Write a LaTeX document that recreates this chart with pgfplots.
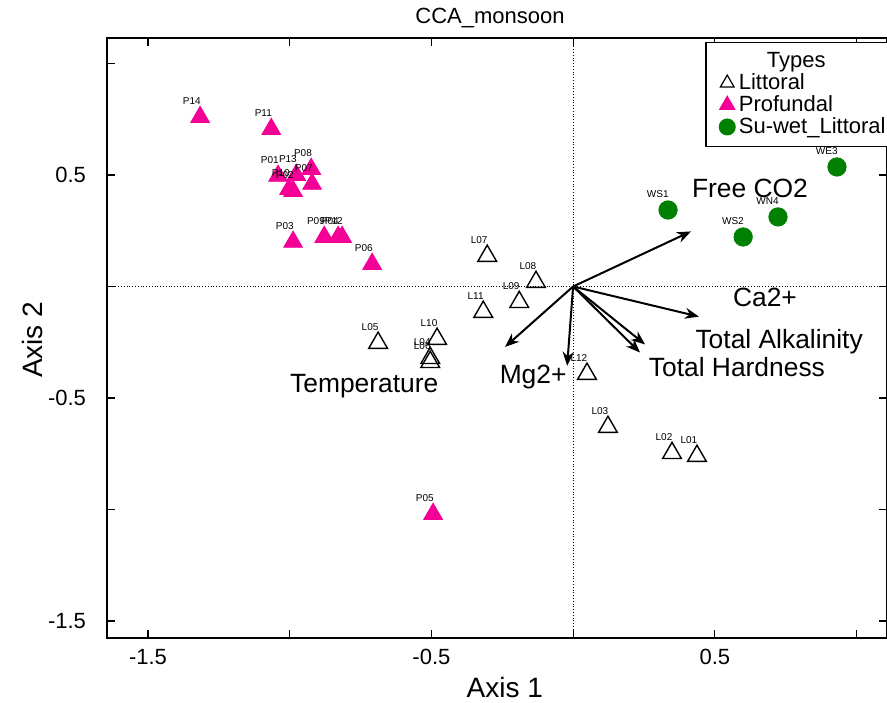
\documentclass[border=0pt]{standalone}
\usepackage{pgfplots}
\pgfplotsset{compat=1.18}
\usepackage{fontspec}
\setmainfont{Liberation Sans}
\usetikzlibrary{arrows.meta}
\definecolor{prof}{RGB}{245,0,150}
\definecolor{suwet}{RGB}{0,128,0}
\begin{document}
\begin{tikzpicture}
\begin{axis}[
  at={(0,0)}, anchor=south west,
  scale only axis, width=390pt, height=300pt,
  xmin=-1.6446, xmax=1.1076, ymin=-1.5762, ymax=1.1143,
  xtick={-1.5,-1,-0.5,0,0.5,1}, xticklabels={-1.5,,-0.5,,0.5,},
  ytick={-1.5,-1,-0.5,0,0.5,1}, yticklabels={-1.5,,-0.5,,0.5,},
  tick align=inside,
  major tick length=4pt,
  tick style={black, line width=0.6pt},
  ticklabel style={font=\fontsize{11}{13}\selectfont},
  xticklabel style={yshift=-2pt},
  yticklabel style={xshift=-7pt},
  axis line style={line width=0.9pt},
  clip=false,
  xlabel={Axis 1}, ylabel={Axis 2},
  xlabel style={at={(rel axis cs:0.51,-0.0833)}, anchor=center, font=\fontsize{14}{16}\selectfont},
  ylabel style={at={(rel axis cs:-0.0949,0.497)}, anchor=center, rotate=0, font=\fontsize{14}{16}\selectfont},
  legend style={at={(rel axis cs:0.767,0.994)}, anchor=north west, draw=black, line width=0.9pt, fill=white,
    font=\fontsize{11}{12}\selectfont, inner xsep=2pt, inner ysep=3pt, row sep=-2.5pt, cells={anchor=west}},
  legend cell align=left,
  every node near coord/.append style={font=\fontsize{5}{5}\selectfont, anchor=south east, inner sep=0pt, xshift=0.5pt, yshift=6pt, text=black},
]
% reference lines
\addplot[black, densely dotted, line width=0.4pt, forget plot] coordinates {(0,-1.5762) (0,1.1143)};
\addplot[black, densely dotted, line width=0.4pt, forget plot] coordinates {(-1.6446,0) (1.1076,0)};

% Littoral
\addplot[only marks, mark=triangle, mark size=5.4pt, black, line width=0.7pt, mark options={fill=white},
  nodes near coords, point meta=explicit symbolic, forget plot] table[meta=label] {
x y label
-0.303 0.137 L07
-0.131 0.020 L08
-0.190 -0.070 L09
-0.317 -0.114 L11
-0.688 -0.253 L05
-0.480 -0.235 L10
-0.504 -0.321 L04
-0.504 -0.339 L06
0.049 -0.392 L12
0.123 -0.630 L03
0.349 -0.747 L02
0.437 -0.760 L01
};

% Profundal
\addplot[only marks, mark=triangle*, mark size=5.4pt, prof, mark options={draw=prof, fill=prof},
  nodes near coords, point meta=explicit symbolic, forget plot] table[meta=label] {
x y label
-1.316 0.760 P14
-1.065 0.706 P11
-0.924 0.527 P08
-1.041 0.496 P01
-0.977 0.500 P13
-0.921 0.460 P07
-1.002 0.437 P10
-0.988 0.428 P02
-0.988 0.200 P03
-0.878 0.222 P09
-0.829 0.222 P04
-0.815 0.222 P12
-0.709 0.101 P06
-0.494 -1.020 P05
};

% Su-wet Littoral
\addplot[only marks, mark=*, mark size=4.6pt, suwet, mark options={draw=suwet, fill=suwet},
  nodes near coords, point meta=explicit symbolic, forget plot] table[meta=label] {
x y label
0.931 0.536 WE3
0.335 0.343 WS1
0.723 0.312 WN4
0.600 0.222 WS2
};

% biplot arrows
\addplot[black, line width=1pt, -{Stealth[length=7pt,width=5.5pt]}, forget plot] coordinates {(0,0) (0.416,0.247)};
\addplot[black, line width=1pt, -{Stealth[length=7pt,width=5.5pt]}, forget plot] coordinates {(0,0) (0.444,-0.135)};
\addplot[black, line width=1pt, -{Stealth[length=7pt,width=5.5pt]}, forget plot] coordinates {(0,0) (0.254,-0.260)};
\addplot[black, line width=1pt, -{Stealth[length=7pt,width=5.5pt]}, forget plot] coordinates {(0,0) (0.236,-0.296)};
\addplot[black, line width=1pt, -{Stealth[length=7pt,width=5.5pt]}, forget plot] coordinates {(0,0) (-0.021,-0.356)};
\addplot[black, line width=1pt, -{Stealth[length=7pt,width=5.5pt]}, forget plot] coordinates {(0,0) (-0.240,-0.271)};

\node[font=\fontsize{13.2}{15}\selectfont] at (axis cs:0.624,0.442) {Free CO2};
\node[font=\fontsize{13.2}{15}\selectfont] at (axis cs:0.677,-0.047) {Ca2+};
\node[font=\fontsize{13.2}{15}\selectfont] at (axis cs:0.727,-0.249) {Total Alkalinity};
\node[font=\fontsize{13.2}{15}\selectfont] at (axis cs:0.578,-0.361) {Total Hardness};
\node[font=\fontsize{13.2}{15}\selectfont] at (axis cs:-0.141,-0.406) {Mg2+};
\node[font=\fontsize{13.2}{15}\selectfont] at (axis cs:-0.737,-0.446) {Temperature};
\node[font=\fontsize{11}{13}\selectfont] at (rel axis cs:0.491,1.0333) {CCA\_monsoon};

% legend
\addlegendimage{empty legend}
\addlegendentry{\hspace{14pt}Types\rule[-5.5pt]{0pt}{1pt}}
\addlegendimage{only marks, mark=triangle, mark size=4pt, black, line width=0.6pt}
\addlegendentry{Littoral}
\addlegendimage{only marks, mark=triangle*, mark size=4pt, prof, mark options={draw=prof, fill=prof}}
\addlegendentry{Profundal}
\addlegendimage{only marks, mark=*, mark size=3.8pt, suwet, mark options={draw=suwet, fill=suwet}}
\addlegendentry{Su-wet\_Littoral}
\end{axis}
\pgfresetboundingbox
\path[use as bounding box] (-53.5pt,-32pt) rectangle (390pt,319pt);
\end{tikzpicture}
\end{document}
